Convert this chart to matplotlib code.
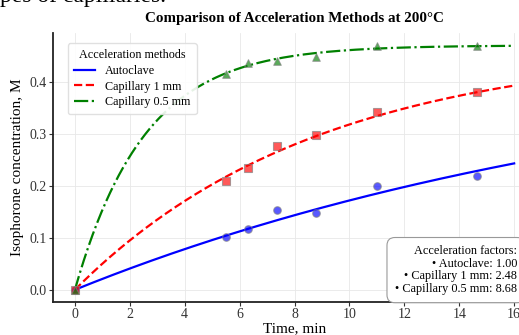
import numpy as np
import matplotlib.pyplot as plt

plt.rcParams['font.family'] = ['Liberation Serif', 'DejaVu Serif']

# measured points
t_obs = [0, 5.5, 6.3, 7.35, 8.8, 11.0, 14.65]
autoclave = [0, 0.101, 0.117, 0.154, 0.148, 0.200, 0.219]
cap_1mm = [0, 0.210, 0.235, 0.277, 0.298, 0.342, 0.381]
cap_05mm = [0, 0.415, 0.437, 0.440, 0.448, 0.469, 0.469]

# fitted first-order model: C = Cmax * (1 - exp(-k t)), k = k_base * factor
cmax = 0.47
k_base = 0.0455
factors = [1.00, 2.48, 8.68]

names = ["Autoclave", "Capillary 1 mm", "Capillary 0.5 mm"]
colors = ["blue", "red", "green"]
styles = ["-", "--", "-."]
markers = ["o", "s", "^"]

fig = plt.figure(figsize=(5.19, 3.35), dpi=100)
ax = fig.add_axes([0.102, 0.0985, 0.931, 0.8025])

t = np.linspace(0, 16, 300)
for obs, f, name, c, ls, m in zip([autoclave, cap_1mm, cap_05mm], factors,
                                  names, colors, styles, markers):
    ax.plot(t, cmax * (1 - np.exp(-k_base * f * t)), color=c, ls=ls, lw=1.6, label=name)
    ax.scatter(t_obs, obs, color=c, marker=m, s=30, alpha=0.65,
               edgecolors="gray", linewidths=0.8, zorder=3)

ax.set_xlim(-0.8, 16.8)
ax.set_ylim(-0.0235, 0.4935)
ax.set_xticks(range(0, 17, 2))
ax.set_yticks([0.0, 0.1, 0.2, 0.3, 0.4])
ax.grid(True, color="#e8e8e8", lw=0.6)
ax.set_axisbelow(True)
for s in ["top", "right"]:
    ax.spines[s].set_visible(False)
for s in ["left", "bottom"]:
    ax.spines[s].set_linewidth(1.3)
    ax.spines[s].set_color("#222222")
ax.tick_params(labelsize=10, colors="#333333", length=3, pad=1.5)

ax.set_xlabel("Time, min", fontsize=11, labelpad=1)
ax.set_ylabel("Isophorone concentration, M", fontsize=11)
ax.set_title("Comparison of Acceleration Methods at 200°C", fontsize=10.8,
             fontweight="bold", pad=8)

leg = ax.legend(title="Acceleration methods", loc="upper left",
                bbox_to_anchor=(0.018, 0.985), fontsize=8.7, title_fontsize=8.7,
                labelspacing=0.3, handlelength=1.8, borderpad=0.5,
                frameon=True, framealpha=0.9, edgecolor="#dddddd")

txt = "Acceleration factors:\n" + "\n".join(
    f"• {n}: {f:.2f}" for n, f in zip(names, factors))
fig.text(0.996, 0.12, txt, ha="right", va="bottom", fontsize=8.8,
         multialignment="right", linespacing=1.05,
         bbox=dict(boxstyle="round,pad=0.65", fc="white", ec="#999999", lw=0.8))

fig.text(0.0, 0.993, "pes of capillaries.", fontsize=17, va="baseline", ha="left")

fig.savefig("out.png", dpi=100)
